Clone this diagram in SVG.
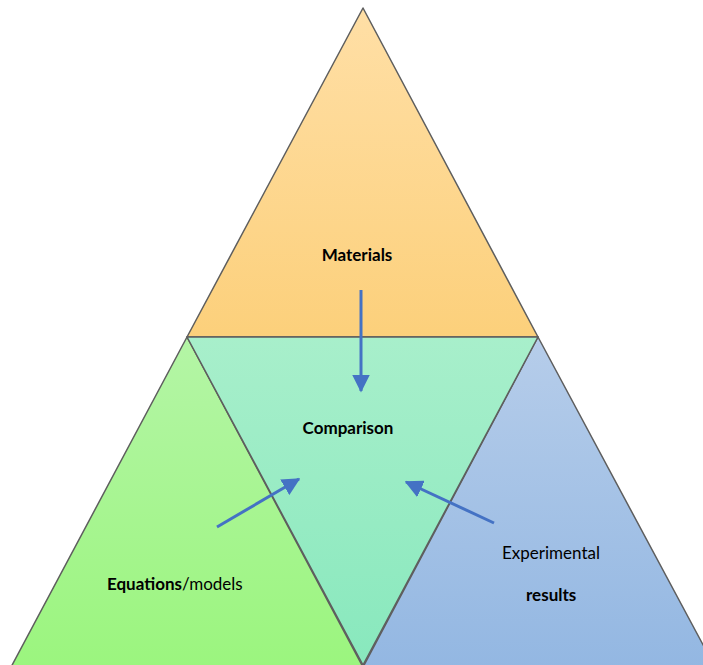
<svg xmlns="http://www.w3.org/2000/svg" width="703" height="665" viewBox="0 0 703 665">
<defs>
<linearGradient id="gTop" x1="0" y1="0" x2="0" y2="1"><stop offset="0" stop-color="#FFDFA6"/><stop offset="1" stop-color="#FCD07B"/></linearGradient>
<linearGradient id="gMid" x1="0" y1="0" x2="0" y2="1"><stop offset="0" stop-color="#A8EFCB"/><stop offset="1" stop-color="#88E8BD"/></linearGradient>
<linearGradient id="gLeft" x1="0" y1="0" x2="0" y2="1"><stop offset="0" stop-color="#B4F5A6"/><stop offset="1" stop-color="#9BF57E"/></linearGradient>
<linearGradient id="gRight" x1="0" y1="0" x2="0" y2="1"><stop offset="0" stop-color="#B6CDEA"/><stop offset="1" stop-color="#93B7E2"/></linearGradient>
<marker id="ah" markerWidth="6" markerHeight="6" refX="5.5" refY="3" orient="auto" markerUnits="strokeWidth"><path d="M0,0 L6,3 L0,6 Z" fill="#4472C4"/></marker>
</defs>
<style>
.tri{stroke:#5E5E5E;stroke-width:1.5;stroke-linejoin:round}
.t{font-family:Lato,"Open Sans","Liberation Sans",sans-serif;font-size:17px;fill:#000}
.b{font-weight:bold}
.arr{stroke:#4472C4;stroke-width:3;fill:none;marker-end:url(#ah)}
</style>
<g id="left"><polygon class="tri" fill="url(#gLeft)" points="187,337 364,669 10,669"/><text class="t" x="107" y="590"><tspan class="b">Equations</tspan>/models</text></g>
<g id="right"><polygon class="tri" fill="url(#gRight)" points="538,337 716,669 362,669"/><text class="t" x="502" y="559">Experimental</text><text class="t b" x="526" y="601">results</text></g>
<g id="top"><polygon class="tri" fill="url(#gTop)" points="363,8 538,337 187,337"/><text class="t b" x="357" y="261" text-anchor="middle">Materials</text></g>
<g id="middle"><polygon class="tri" fill="url(#gMid)" points="187,337 538,337 363,665"/><text class="t b" x="348" y="434" text-anchor="middle">Comparison</text></g>
<g id="connectors">
<line class="arr" x1="361" y1="290" x2="361" y2="391"/>
<line class="arr" x1="217" y1="527" x2="299" y2="479"/>
<line class="arr" x1="494" y1="523" x2="406" y2="482"/>
</g>
</svg>
